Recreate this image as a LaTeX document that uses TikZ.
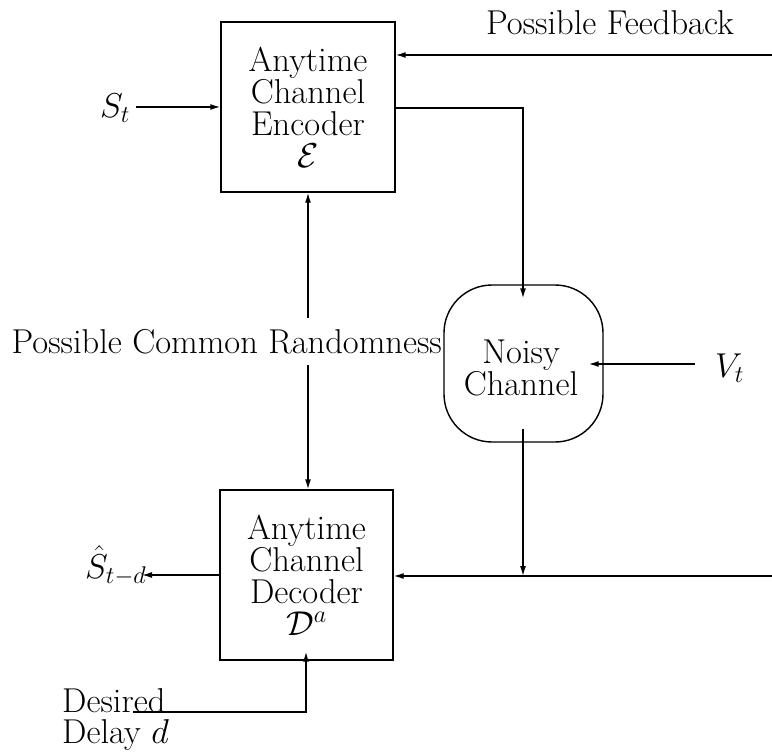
\RequirePackage{fix-cm}
\documentclass[tikz,border=0pt]{standalone}
\usepackage{fontspec}
\usetikzlibrary{arrows.meta}
\begin{document}
\begin{tikzpicture}[x=1pt,y=-1pt,
  every node/.style={font=\fontsize{34.5}{32}\selectfont},
  blockbox/.style={draw,line width=1.4pt,inner sep=0pt,align=center,
    minimum width=174pt,minimum height=170pt},
  chanbox/.style={draw,line width=1.4pt,inner sep=0pt,rounded corners=48pt,
    minimum width=159pt,minimum height=157pt},
  txt/.style={inner sep=0pt,align=left},
  wire/.style={line width=1.4pt},
  arr/.style={wire,-{Latex[length=10pt,width=6pt]}},
  dblarr/.style={wire,{Latex[length=10pt,width=6pt]}-{Latex[length=10pt,width=6pt]}}
]
\useasboundingbox (0,0) rectangle (772,755);

% blocks
\node[blockbox] (enc) at (308,107) {Anytime\\Channel\\Encoder\\$\mathcal{E}$};
\node[blockbox,minimum width=173pt] (dec) at (306.5,575) {Anytime\\Channel\\Decoder\\$\mathcal{D}^a$};
\node[chanbox] (chan) at (523.5,363.5) {};
\node[txt,align=center] (chantxt) at (521,368) {Noisy\\Channel};

% free ends
\coordinate (stin) at (136,107);
\coordinate (fbin) at (772,55);
\coordinate (bend) at (523,108);
\coordinate (join) at (523,576);
\coordinate (retin) at (772,576);
\coordinate (vtin) at (695,364);
\coordinate (shout) at (142,575);
\coordinate (ddin) at (133,712);
\coordinate (ddbend) at (306,712);

% labels
\node[txt,anchor=base west] (st) at (100,117) {$S_t$};
\node[txt,anchor=base] (fb) at (610,34) {Possible Feedback};
\node[txt,anchor=base west] (vt) at (715,377) {$V_t$};
\node[txt,anchor=base west] (sh) at (85,578) {$\hat{S}_{t-d}$};
\node[txt,anchor=base west] (des) at (62,712) {Desired};
\node[txt,anchor=base west] (del) at (62,743) {Delay $d$};

% connectors
\draw[arr] (stin) -- (enc.west |- stin);
\draw[arr] (fbin) -- (enc.east |- fbin);
\draw[arr,shorten >=-14pt] (enc.east |- bend) -- (bend) -- (bend |- chan.north);
\draw[arr,shorten >=-15pt] (vtin) -- (chan.east |- vtin);
\draw[arr,shorten <=-14pt] (bend |- chan.south) -- (join);
\draw[arr] (retin) -- (dec.east |- retin);
\draw[arr] (dec.west |- shout) -- (shout);
\draw[arr,shorten >=-9pt] (ddin) -- (ddbend) -- (ddbend |- dec.south);
\draw[dblarr] (enc.south) -- (enc.south |- dec.north);

% shared-randomness label sits on the vertical link
\node[txt,fill=white,inner ysep=11pt,anchor=base east] (cr) at (442,353) {Possible Common Randomness};
\end{tikzpicture}
\end{document}
